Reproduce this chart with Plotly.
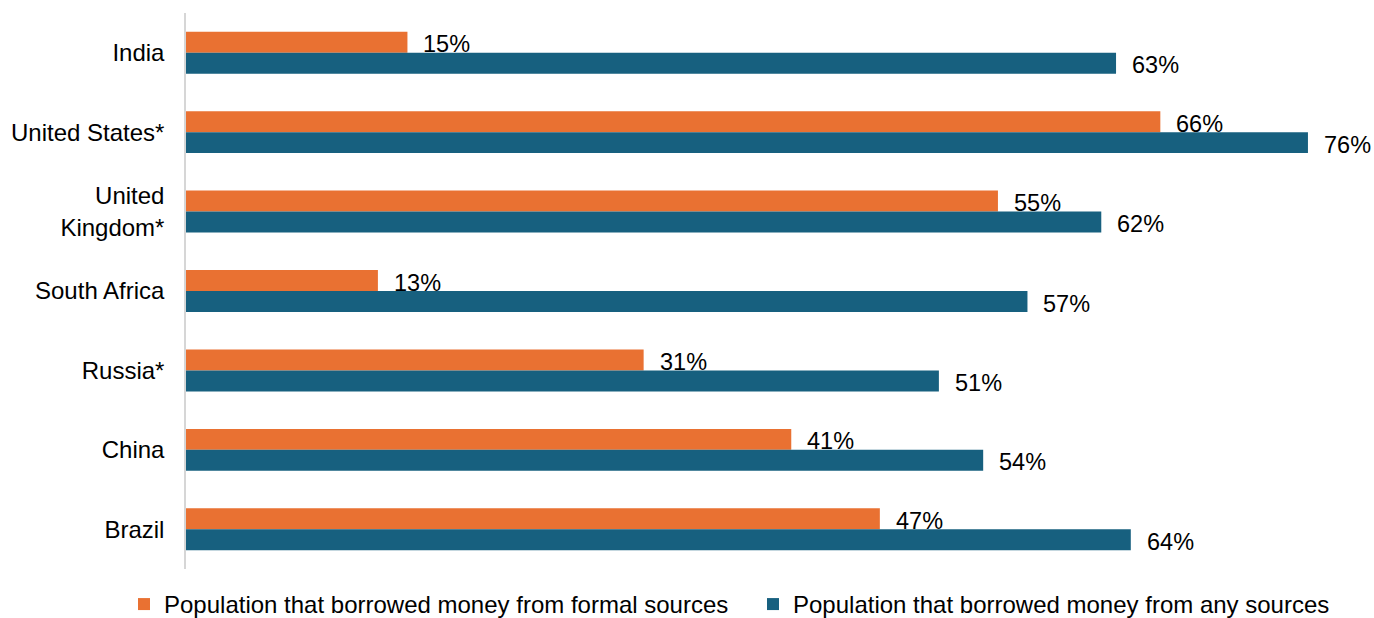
import plotly.graph_objects as go

countries = ["India", "United States*", "United<br>Kingdom*", "South Africa", "Russia*", "China", "Brazil"]
formal = [15, 66, 55, 13, 31, 41, 47]
any_src = [63, 76, 62, 57, 51, 54, 64]
series_names = ["Population that borrowed money from formal sources",
                "Population that borrowed money from any sources"]
colors = ["#E97132", "#17607F"]

FONT = "Liberation Sans, Arial, sans-serif"
FS = 24
LFS = 23.5

fig = go.Figure()
fig.add_trace(go.Bar(y=countries, x=formal, orientation="h", name=series_names[0],
                     marker=dict(color=colors[0], line=dict(width=0))))
fig.add_trace(go.Bar(y=countries, x=any_src, orientation="h", name=series_names[1],
                     marker=dict(color=colors[1], line=dict(width=0))))

annotations = []
for c, v in zip(countries, formal):
    annotations.append(dict(x=v, y=c, text=f"{v}%", showarrow=False, xanchor="left",
                            yanchor="middle", xshift=14, yshift=8.5,
                            font=dict(family=FONT, size=LFS, color="#000000")))
for c, v in zip(countries, any_src):
    annotations.append(dict(x=v, y=c, text=f"{v}%", showarrow=False, xanchor="left",
                            yanchor="middle", xshift=14, yshift=-12.5,
                            font=dict(family=FONT, size=LFS, color="#000000")))

fig.update_layout(
    width=1374, height=618,
    margin=dict(l=186, r=7, t=13, b=49, autoexpand=False),
    paper_bgcolor="white", plot_bgcolor="white",
    barmode="group", bargap=0.472, bargroupgap=0,
    font=dict(family=FONT, size=FS, color="#000000"),
    showlegend=True,
    legend=dict(orientation="h", x=-0.0525, xanchor="left",
                y=-0.0638, yanchor="middle",
                entrywidth=584, entrywidthmode="pixels",
                font=dict(family=FONT, size=FS, color="#000000"), traceorder="normal",
                itemwidth=30, bgcolor="rgba(0,0,0,0)"),
    annotations=annotations,
)
fig.update_xaxes(range=[0, 80], showgrid=False, zeroline=False, showticklabels=False,
                 ticks="", showline=False)
fig.update_yaxes(autorange="reversed", showgrid=False, zeroline=False, ticks="",
                 showline=True, linecolor="#D6D6D6", linewidth=1.5,
                 ticklabelstandoff=15, tickfont=dict(family=FONT, size=FS, color="#000000"))

fig.write_html("out.html", config={"displayModeBar": False},
               post_script="document.body.style.margin='0px';")
